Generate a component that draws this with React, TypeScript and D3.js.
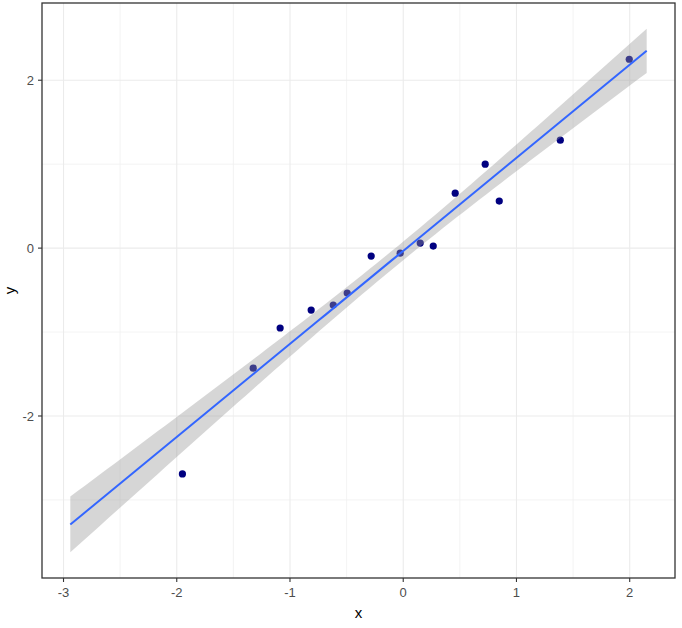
import { useMemo } from 'react';
import * as d3 from 'd3';

// Observed points
const xValues = [-1.95, -1.325, -1.087, -0.813, -0.618, -0.495, -0.283, -0.027, 0.15, 0.265, 0.459, 0.724, 0.848, 1.387, 1.996];
const yValues = [-2.69, -1.43, -0.952, -0.738, -0.679, -0.536, -0.095, -0.06, 0.06, 0.024, 0.655, 1.0, 0.56, 1.286, 2.25];

const xTicks = [-3, -2, -1, 0, 1, 2];
const yTicks = [-2, 0, 2];
const xMinor = [-2.5, -1.5, -0.5, 0.5, 1.5];
const yMinor = [-3, -1, 1];

// range over which the smooth is drawn, and the t quantile (df = n - 2) for the band
const fitRange = [-2.94, 2.15];
const tCrit = 1.771;

const WIDTH = 682;
const HEIGHT = 628;
const margin = { top: 3, right: 7, bottom: 50, left: 42 };

export default function App() {
	const innerW = WIDTH - margin.left - margin.right;
	const innerH = HEIGHT - margin.top - margin.bottom;

	const x = d3.scaleLinear().domain([-3.19, 2.4]).range([0, innerW]);
	const y = d3.scaleLinear().domain([-3.93, 2.92]).range([innerH, 0]);

	const fit = useMemo(() => {
		const n = xValues.length;
		const mx = d3.mean(xValues) as number;
		const my = d3.mean(yValues) as number;
		let sxx = 0;
		let sxy = 0;
		xValues.forEach((xv, i) => {
			sxx += (xv - mx) ** 2;
			sxy += (xv - mx) * (yValues[i] - my);
		});
		const slope = sxy / sxx;
		const intercept = my - slope * mx;
		let sse = 0;
		xValues.forEach((xv, i) => {
			sse += (yValues[i] - (intercept + slope * xv)) ** 2;
		});
		const s = Math.sqrt(sse / (n - 2));
		const grid = d3.range(80).map((i) => fitRange[0] + ((fitRange[1] - fitRange[0]) * i) / 79);
		return grid.map((gx) => {
			const fitted = intercept + slope * gx;
			const se = s * Math.sqrt(1 / n + (gx - mx) ** 2 / sxx);
			return { x: gx, y: fitted, lo: fitted - tCrit * se, hi: fitted + tCrit * se };
		});
	}, []);

	const line = d3
		.line<{ x: number; y: number }>()
		.x((d) => x(d.x))
		.y((d) => y(d.y));
	const area = d3
		.area<{ x: number; lo: number; hi: number }>()
		.x((d) => x(d.x))
		.y0((d) => y(d.lo))
		.y1((d) => y(d.hi));

	const font = '"Liberation Sans", Arial, sans-serif';

	return (
		<svg width={WIDTH} height={HEIGHT} style={{ position: 'absolute', left: 0, top: 0, background: '#fff' }}>
			<g transform={`translate(${margin.left},${margin.top})`}>
				{xMinor.map((t) => (
					<line key={`xm${t}`} x1={x(t)} x2={x(t)} y1={0} y2={innerH} stroke="#F0F0F0" strokeWidth={0.8} />
				))}
				{yMinor.map((t) => (
					<line key={`ym${t}`} x1={0} x2={innerW} y1={y(t)} y2={y(t)} stroke="#F0F0F0" strokeWidth={0.8} />
				))}
				{xTicks.map((t) => (
					<line key={`xg${t}`} x1={x(t)} x2={x(t)} y1={0} y2={innerH} stroke="#EBEBEB" strokeWidth={1.1} />
				))}
				{yTicks.map((t) => (
					<line key={`yg${t}`} x1={0} x2={innerW} y1={y(t)} y2={y(t)} stroke="#EBEBEB" strokeWidth={1.1} />
				))}

				{xValues.map((xv, i) => (
					<circle key={i} cx={x(xv)} cy={y(yValues[i])} r={3.6} fill="#000080" />
				))}

				<path d={area(fit) ?? ''} fill="#999999" fillOpacity={0.4} />
				<path d={line(fit) ?? ''} fill="none" stroke="#3366FF" strokeWidth={2} />

				<rect x={0} y={0} width={innerW} height={innerH} fill="none" stroke="#333333" strokeWidth={1.3} />

				{xTicks.map((t) => (
					<g key={`xt${t}`} transform={`translate(${x(t)},${innerH})`}>
						<line y1={0} y2={4} stroke="#333333" strokeWidth={1.1} />
						<text y={19} textAnchor="middle" fontFamily={font} fontSize={13} fill="#4D4D4D">
							{t}
						</text>
					</g>
				))}
				{yTicks.map((t) => (
					<g key={`yt${t}`} transform={`translate(0,${y(t)})`}>
						<line x1={0} x2={-4} stroke="#333333" strokeWidth={1.1} />
						<text x={-8} dy="0.36em" textAnchor="end" fontFamily={font} fontSize={13} fill="#4D4D4D">
							{t}
						</text>
					</g>
				))}
			</g>
			<text x={margin.left + innerW / 2} y={618} textAnchor="middle" fontFamily={font} fontSize={15} fill="#000">
				x
			</text>
			<text transform={`translate(15,${margin.top + innerH / 2}) rotate(-90)`} textAnchor="middle" fontFamily={font} fontSize={15} fill="#000">
				y
			</text>
		</svg>
	);
}
